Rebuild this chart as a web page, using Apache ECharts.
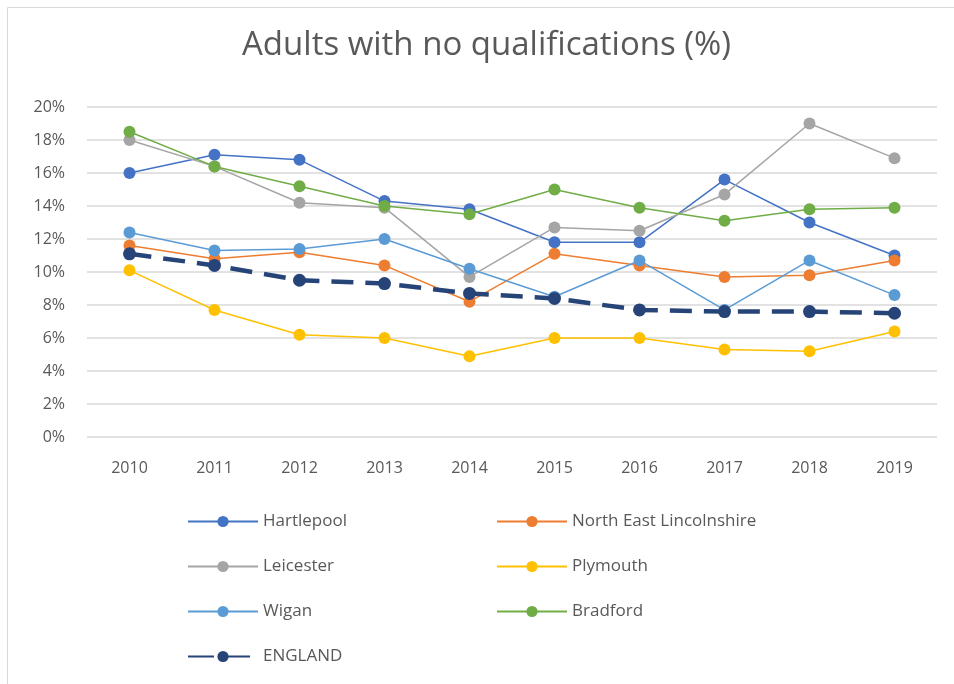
<!DOCTYPE html>
<html>
<head>
<meta charset="utf-8">
<script src="https://cdn.jsdelivr.net/npm/echarts@6/dist/echarts.min.js"></script>
<style>
  html, body { margin: 0; padding: 0; background: #fff; }
  #chart { width: 954px; height: 684px; }
</style>
</head>
<body>
<div id="chart"></div>
<script>
// 年份
var years = ['2010', '2011', '2012', '2013', '2014', '2015', '2016', '2017', '2018', '2019']
// 各地区数据 (%)
var hartlepool = [16.0, 17.1, 16.8, 14.3, 13.8, 11.8, 11.8, 15.6, 13.0, 11.0]
var neLincs = [11.6, 10.8, 11.2, 10.4, 8.2, 11.1, 10.4, 9.7, 9.8, 10.7]
var leicester = [18.0, 16.4, 14.2, 13.9, 9.7, 12.7, 12.5, 14.7, 19.0, 16.9]
var plymouth = [10.1, 7.7, 6.2, 6.0, 4.9, 6.0, 6.0, 5.3, 5.2, 6.4]
var wigan = [12.4, 11.3, 11.4, 12.0, 10.2, 8.5, 10.7, 7.7, 10.7, 8.6]
var bradford = [18.5, 16.4, 15.2, 14.0, 13.5, 15.0, 13.9, 13.1, 13.8, 13.9]
var england = [11.1, 10.4, 9.5, 9.3, 8.7, 8.4, 7.7, 7.6, 7.6, 7.5]

var font = 'Open Sans'
var textColor = '#595959'

function mkSeries (name, data, color) {
  return {
    name: name,
    type: 'line',
    data: data,
    symbol: 'circle',
    symbolSize: 12,
    itemStyle: { color: color },
    lineStyle: { color: color, width: 1.5 }
  }
}

var series = [
  mkSeries('Hartlepool', hartlepool, '#4472C4'),
  mkSeries('North East Lincolnshire', neLincs, '#ED7D31'),
  mkSeries('Leicester', leicester, '#A5A5A5'),
  mkSeries('Plymouth', plymouth, '#FFC000'),
  mkSeries('Wigan', wigan, '#5B9BD5'),
  mkSeries('Bradford', bradford, '#70AD47'),
  {
    name: 'ENGLAND',
    type: 'line',
    data: england,
    symbol: 'circle',
    symbolSize: 13,
    itemStyle: { color: '#264478' },
    lineStyle: { color: '#264478', width: 4.5, type: [22, 12] }
  }
]

var myChart = echarts.init(document.getElementById('chart'))
var legendText = { fontFamily: font, fontSize: 17, color: textColor }
var option = {
  animation: false,
  title: {
    text: 'Adults with no qualifications (%)',
    left: 242,
    top: 29,
    padding: 0,
    textStyle: { fontFamily: font, fontSize: 33, fontWeight: 'normal', color: textColor }
  },
  legend: [
    {
      data: ['Hartlepool', 'Leicester', 'Wigan', { name: 'ENGLAND', lineStyle: { type: [26, 10] } }],
      orient: 'vertical',
      left: 187,
      top: 513,
      padding: 0,
      itemWidth: 70,
      itemHeight: 14,
      itemGap: 28,
      textStyle: legendText
    },
    {
      data: ['North East Lincolnshire', 'Plymouth', 'Bradford'],
      orient: 'vertical',
      left: 496,
      top: 513,
      padding: 0,
      itemWidth: 70,
      itemHeight: 14,
      itemGap: 28,
      textStyle: legendText
    }
  ],
  grid: { left: 87, right: 17, top: 107, height: 330, containLabel: false },
  xAxis: {
    type: 'category',
    data: years,
    boundaryGap: true,
    axisLine: { show: false },
    axisTick: { show: false },
    axisLabel: { fontFamily: font, fontSize: 16, color: textColor, margin: 23 }
  },
  yAxis: {
    type: 'value',
    min: 0,
    max: 20,
    interval: 2,
    axisLine: { show: false },
    axisTick: { show: false },
    splitLine: { lineStyle: { color: '#D9D9D9', width: 1.5 } },
    axisLabel: { fontFamily: font, fontSize: 16, color: textColor, margin: 22, formatter: '{value}%' }
  },
  graphic: [
    { type: 'line', shape: { x1: 7.5, y1: 7.5, x2: 954, y2: 7.5 }, style: { stroke: '#D9D9D9', lineWidth: 1 } },
    { type: 'line', shape: { x1: 7.5, y1: 7.5, x2: 7.5, y2: 684 }, style: { stroke: '#D9D9D9', lineWidth: 1 } }
  ],
  series: series
}
myChart.setOption(option, true)
</script>
</body>
</html>
